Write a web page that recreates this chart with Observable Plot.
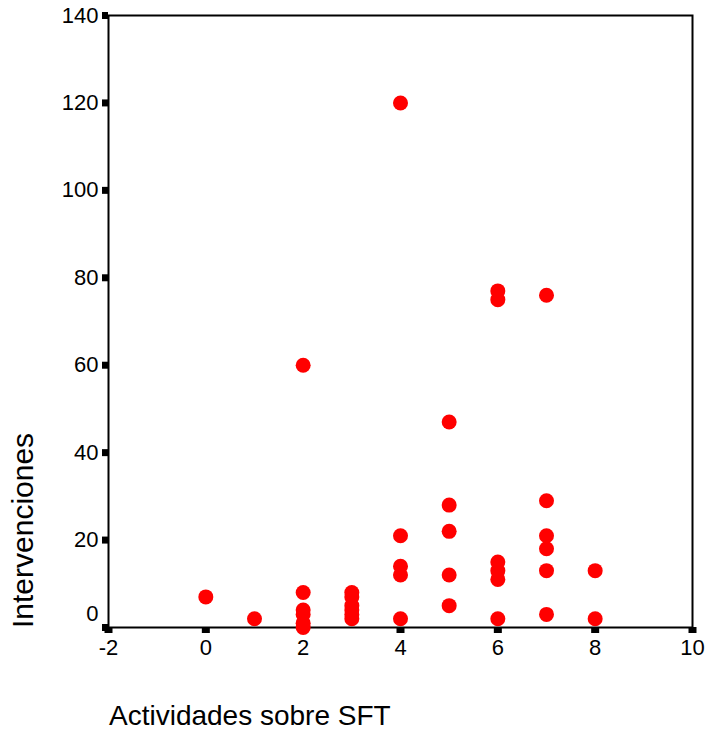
<!DOCTYPE html>
<html>
<head>
<meta charset="utf-8">
<script src="https://cdn.jsdelivr.net/npm/d3@7"></script>
<script src="https://cdn.jsdelivr.net/npm/@observablehq/plot@0.6"></script>
<style>
  html, body { margin: 0; padding: 0; background: #fff; }
  #chart { width: 707px; height: 731px; }
</style>
</head>
<body>
<div id="chart"></div>
<script>
// Activities on SFT (x) versus number of interventions (y), one dot per case
const actividades = [0, 1, 2, 2, 2, 2, 2, 2, 3, 3, 3, 3, 3, 3,
  4, 4, 4, 4, 4, 5, 5, 5, 5, 5, 6, 6, 6, 6, 6, 6,
  7, 7, 7, 7, 7, 7, 8, 8];
const intervenciones = [7, 2, 60, 8, 4, 3, 1, 0, 8, 7, 5, 4, 3, 2,
  120, 21, 14, 12, 2, 47, 28, 22, 12, 5, 77, 75, 15, 13, 11, 2,
  76, 29, 21, 18, 13, 3, 13, 2];
const xTicks = [-2, 0, 2, 4, 6, 8, 10];
const yTicks = [0, 20, 40, 60, 80, 100, 120, 140];
const xTitle = "Actividades sobre SFT";
const yTitle = "Intervenciones";

const points = actividades.map((a, i) => ({a, v: intervenciones[i]}));
const fmt = (d) => String(d);

const chart = Plot.plot({
  width: 707,
  height: 731,
  marginLeft: 108,
  marginRight: 15,
  marginTop: 15,
  marginBottom: 104,
  style: {fontFamily: "Liberation Sans, Arial, sans-serif", fontSize: "22px", color: "#000", background: "#fff"},
  x: {domain: [-2, 10]},
  y: {domain: [0, 140]},
  marks: [
    Plot.axisX({ticks: xTicks, tickSize: 6, strokeWidth: 8, tickFormat: fmt, tickPadding: 6, label: null, fontSize: 22}),
    Plot.axisY({ticks: yTicks, tickSize: 6, strokeWidth: 7, tickFormat: (d) => d === 0 ? "" : String(d), tickPadding: 4, label: null, fontSize: 22}),
    // the zero label sits a little above the x axis
    Plot.axisY({ticks: [0], tickSize: 0, tickFormat: fmt, tickPadding: 10, label: null, fontSize: 22, dy: -14}),
    Plot.frame({stroke: "#000", strokeWidth: 2}),
    Plot.dot(points, {x: "a", y: "v", r: 7.5, fill: "#ff0000", stroke: "none"})
  ]
});

const svg = d3.select(chart);
svg.append("text")
  .attr("x", 109).attr("y", 725)
  .attr("text-anchor", "start")
  .attr("font-size", 28)
  .attr("fill", "#000")
  .text(xTitle);
svg.append("text")
  .attr("transform", "translate(33,628) rotate(-90)")
  .attr("text-anchor", "start")
  .attr("font-size", 30)
  .attr("fill", "#000")
  .text(yTitle);

document.getElementById("chart").appendChild(chart);
</script>
</body>
</html>
